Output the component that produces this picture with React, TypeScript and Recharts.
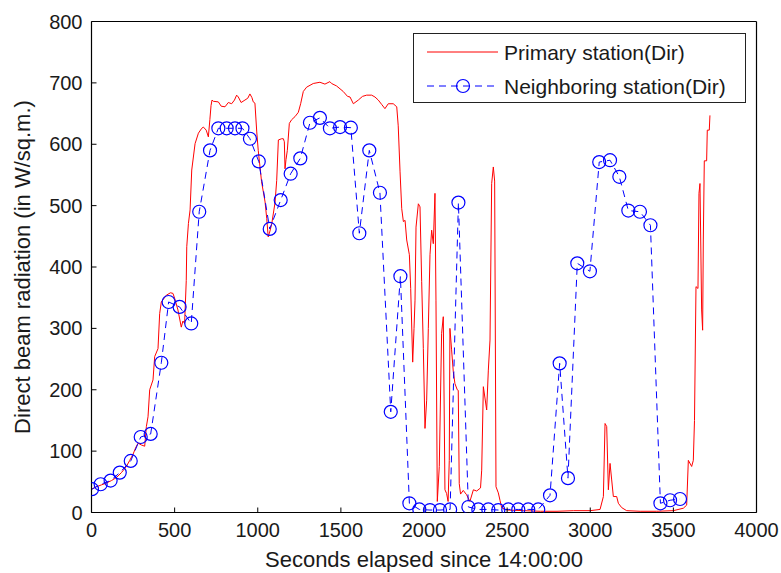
import React from 'react';
import { LineChart, Line, XAxis, YAxis, Legend } from 'recharts';

const primarySeconds = [
  0, 30, 60, 90, 120, 150, 180, 210, 230, 250, 265, 280, 300, 320, 330, 340, 350, 370, 380, 400,
  410, 420, 450, 475, 490, 500, 520, 540, 550, 560, 570, 573, 583, 593, 603, 623, 643, 663, 673, 690,
  703, 712, 719, 725, 733, 763, 780, 803, 823, 843, 860, 873, 883, 900, 923, 940, 953, 965, 973, 983,
  994, 1003, 1023, 1044, 1054, 1063, 1070, 1084, 1104, 1114, 1124, 1144, 1154, 1160, 1164, 1170, 1178, 1190, 1204, 1224,
  1244, 1258, 1274, 1294, 1334, 1374, 1404, 1434, 1444, 1474, 1514, 1540, 1555, 1575, 1605, 1630, 1655, 1685, 1705, 1725,
  1745, 1765, 1785, 1815, 1836, 1845, 1856, 1866, 1876, 1886, 1896, 1912, 1920, 1932, 1940, 1946, 1952, 1966, 1976, 1986,
  1996, 2006, 2016, 2026, 2036, 2046, 2056, 2066, 2072, 2080, 2092, 2106, 2116, 2126, 2136, 2145, 2152, 2156, 2166, 2176,
  2186, 2200, 2206, 2212, 2220, 2236, 2256, 2276, 2297, 2317, 2340, 2347, 2357, 2377, 2387, 2397, 2407, 2417, 2425, 2433,
  2447, 2457, 2467, 2500, 2600, 2700, 2800, 2900, 3000, 3059, 3079, 3089, 3099, 3109, 3119, 3129, 3139, 3159, 3169, 3189,
  3219, 3300, 3400, 3500, 3560, 3580, 3590, 3610, 3620, 3627, 3636, 3648, 3654, 3660, 3670, 3676, 3680, 3686, 3700, 3704,
  3716, 3720,
];
const primaryRadiation = [
  38, 42, 45, 48, 52, 57, 65, 75, 85, 95, 105, 113, 110, 108, 140, 156, 200, 216, 254, 267,
  324, 343, 354, 358, 357, 349, 330, 302, 312, 308, 378, 433, 471, 493, 558, 601, 618, 626, 628, 623,
  612, 640, 663, 672, 670, 669, 662, 661, 668, 666, 672, 680, 677, 668, 672, 675, 682, 676, 669, 667,
  620, 590, 539, 506, 479, 449, 455, 470, 505, 541, 607, 609, 609, 604, 560, 575, 590, 634, 640, 645,
  652, 666, 686, 693, 699, 701, 698, 702, 699, 695, 686, 678, 677, 666, 672, 678, 680, 680, 677, 672,
  665, 658, 666, 666, 661, 630, 555, 495, 474, 476, 444, 420, 365, 245, 300, 346, 465, 503, 498, 376,
  267, 137, 183, 300, 420, 460, 438, 520, 346, 18, 75, 292, 319, 37, 31, 18, 85, 300, 265, 230,
  210, 200, 199, 47, 30, 36, 29, 18, 37, 35, 40, 69, 205, 167, 232, 281, 536, 563, 540, 42,
  32, 20, 8, 4, 3, 2, 2, 3, 3, 5, 26, 145, 140, 37, 80, 53, 26, 26, 15, 8,
  3, 2, 2, 3, 7, 12, 85, 75, 85, 150, 368, 365, 520, 536, 330, 297, 444, 573, 573, 623,
  623, 647,
];

const neighborSeconds = [
  3, 55, 115, 170, 236, 296, 356, 420, 464, 530, 600, 648, 713, 763, 813, 863, 908, 953, 1006, 1072,
  1138, 1198, 1256, 1314, 1374, 1434, 1495, 1560, 1611, 1671, 1735, 1800, 1858, 1912, 1972, 2036, 2096, 2157, 2207, 2267,
  2327, 2387, 2447, 2507, 2567, 2627, 2687, 2758, 2816, 2866, 2922, 2998, 3054, 3119, 3175, 3229, 3299, 3362, 3422, 3480,
  3540,
];
const neighborRadiation = [
  38, 46, 52, 65, 84, 123, 128, 244, 343, 335, 308, 490, 590, 626, 626, 626, 626, 609, 572, 462,
  509, 552, 577, 635, 643, 626, 628, 627, 455, 590, 521, 164, 385, 15, 5, 4, 4, 5, 505, 9,
  5, 5, 4, 5, 5, 5, 5, 28, 243, 56, 406, 393, 571, 574, 547, 492, 490, 468, 15, 20,
  22,
];

const xTicks = [0, 500, 1000, 1500, 2000, 2500, 3000, 3500, 4000];
const yTicks = [0, 100, 200, 300, 400, 500, 600, 700, 800];

const primaryLabel = 'Primary station(Dir)';
const neighborLabel = 'Neighboring station(Dir)';
const xTitle = 'Seconds elapsed since 14:00:00';
const yTitle = 'Direct beam radiation (in W/sq.m.)';

const primaryData = primarySeconds.map((x, i) => ({ x, y: primaryRadiation[i] }));
const neighborData = neighborSeconds.map((x, i) => ({ x, y: neighborRadiation[i] }));

const FONT = '"Liberation Sans", Arial, Helvetica, sans-serif';
const TEXT = '#1a1a1a';
const RED = '#ff0000';
const BLUE = '#0000ff';

const HollowDot = (props: any) => {
  const { cx, cy, index } = props;
  if (cx == null || cy == null) return null;
  return <circle key={`d-${index}`} cx={cx} cy={cy} r={6.5} fill="none" stroke={BLUE} strokeWidth={1.2} />;
};

const renderLegend = () => (
  <div
    style={{
      boxSizing: 'border-box',
      width: 333,
      height: 70,
      border: '1.5px solid #222',
      background: '#fff',
      fontFamily: FONT,
      fontSize: 21,
      color: TEXT,
      position: 'relative',
    }}
  >
    <svg width={333} height={70} style={{ position: 'absolute', left: 0, top: 0 }}>
      <line x1={13} y1={18} x2={84} y2={18} stroke={RED} strokeWidth={1} />
      <line x1={13} y1={52} x2={84} y2={52} stroke={BLUE} strokeWidth={1} strokeDasharray="7 5" />
      <circle cx={49} cy={52} r={6.5} fill="none" stroke={BLUE} strokeWidth={1.2} />
      <text x={90} y={18} dominantBaseline="central" fontFamily={FONT} fontSize={21} fill={TEXT}>
        {primaryLabel}
      </text>
      <text x={90} y={52} dominantBaseline="central" fontFamily={FONT} fontSize={21} fill={TEXT}>
        {neighborLabel}
      </text>
    </svg>
  </div>
);

const XTitle = (props: any) => {
  const vb = props.viewBox || {};
  const x = vb.x + vb.width / 2;
  const y = vb.y + 47;
  return (
    <text x={x} y={y} textAnchor="middle" dominantBaseline="central" fontFamily={FONT} fontSize={22} fill={TEXT}>
      {xTitle}
    </text>
  );
};

const YTitle = (props: any) => {
  const vb = props.viewBox || {};
  const x = vb.x + 22;
  const y = vb.y + vb.height / 2;
  return (
    <text
      x={x}
      y={y}
      transform={`rotate(-90 ${x} ${y})`}
      textAnchor="middle"
      dominantBaseline="central"
      fontFamily={FONT}
      fontSize={22}
      fill={TEXT}
    >
      {yTitle}
    </text>
  );
};

export default function App() {
  const tickStyle = { fontFamily: FONT, fontSize: 20, fill: TEXT };
  return (
    <div style={{ position: 'absolute', left: 0, top: 0, width: 781, height: 573, background: '#fff' }}>
      <LineChart
        width={781}
        height={573}
        margin={{ top: 20.5, right: 23.5, bottom: 0, left: 0 }}
      >
        <XAxis
          xAxisId="bottom"
          dataKey="x"
          type="number"
          domain={[0, 4000]}
          ticks={xTicks}
          allowDataOverflow
          height={60.5}
          tickSize={-5}
          tickMargin={15}
          tick={tickStyle}
          stroke="#000"
          axisLine={{ stroke: '#000', strokeWidth: 1.2 }}
          tickLine={{ stroke: '#000' }}
          label={<XTitle />}
        />
        <XAxis
          xAxisId="top"
          orientation="top"
          dataKey="x"
          type="number"
          domain={[0, 4000]}
          ticks={xTicks}
          allowDataOverflow
          height={1}
          tickSize={-5}
          tick={false}
          axisLine={{ stroke: '#000', strokeWidth: 1.2 }}
          tickLine={{ stroke: '#000' }}
        />
        <YAxis
          yAxisId="left"
          type="number"
          domain={[0, 800]}
          ticks={yTicks}
          allowDataOverflow
          width={91.5}
          tickSize={-5}
          tickMargin={14}
          tick={tickStyle}
          axisLine={{ stroke: '#000', strokeWidth: 1.2 }}
          tickLine={{ stroke: '#000' }}
          label={<YTitle />}
        />
        <YAxis
          yAxisId="right"
          orientation="right"
          type="number"
          domain={[0, 800]}
          ticks={yTicks}
          allowDataOverflow
          width={1}
          tickSize={-5}
          tick={false}
          axisLine={{ stroke: '#000', strokeWidth: 1.2 }}
          tickLine={{ stroke: '#000' }}
        />
        <Line
          xAxisId="bottom"
          yAxisId="left"
          data={primaryData}
          dataKey="y"
          name={primaryLabel}
          type="linear"
          stroke={RED}
          strokeWidth={1}
          dot={false}
          activeDot={false}
          isAnimationActive={false}
        />
        <Line
          xAxisId="bottom"
          yAxisId="left"
          data={neighborData}
          dataKey="y"
          name={neighborLabel}
          type="linear"
          stroke={BLUE}
          strokeWidth={1}
          strokeDasharray="7 5"
          dot={<HollowDot />}
          activeDot={false}
          isAnimationActive={false}
        />
        <Legend
          layout="vertical"
          align="center"
          verticalAlign="middle"
          content={renderLegend}
          wrapperStyle={{ position: 'absolute', left: 413, top: 33, width: 333, height: 70 }}
        />
      </LineChart>
    </div>
  );
}
